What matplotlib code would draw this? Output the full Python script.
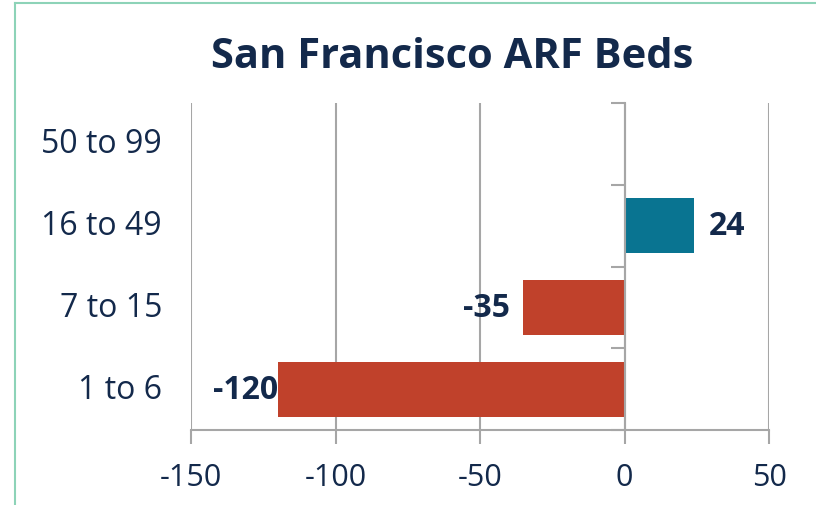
import matplotlib.pyplot as plt
from matplotlib.lines import Line2D
import numpy as np

categories = ['1 to 6', '7 to 15', '16 to 49', '50 to 99']
beds_change = [-120, -35, 24, 0]
x_ticks = [-150, -100, -50, 0, 50]

navy = '#13294B'
grid_gray = '#A6A6A6'
pos_color = '#097491'
neg_color = '#C0412B'

plt.rcParams['font.family'] = ['Open Sans', 'DejaVu Sans']

fig = plt.figure(figsize=(8.16, 5.06), dpi=100)
ax = fig.add_axes([191 / 816, 1 - 431 / 506, 578 / 816, 327 / 506])

y = np.arange(len(categories))
colors = [pos_color if v > 0 else neg_color for v in beds_change]
ax.barh(y, beds_change, height=0.67, color=colors, zorder=3)

ax.set_xlim(-150, 50)
ax.set_ylim(-0.5, len(categories) - 0.5)
ax.set_xticks(x_ticks)
ax.set_xticklabels([str(t) for t in x_ticks])
ax.tick_params(axis='x', direction='out', length=10, width=1.5, color=grid_gray,
               labelsize=22, labelcolor=navy, pad=13)
ax.grid(axis='x', color=grid_gray, linewidth=1.5, zorder=0)

# y axis crosses at zero, category boundary ticks only
ax.spines['left'].set_position(('data', 0))
ax.spines['left'].set_color(grid_gray)
ax.spines['left'].set_linewidth(1.5)
ax.spines['left'].set_zorder(4)
ax.set_yticks(np.arange(-0.5, len(categories)))
ax.set_yticklabels([])
ax.tick_params(axis='y', direction='out', length=10, width=1.5, color=grid_gray)
ax.spines['bottom'].set_color(grid_gray)
ax.spines['bottom'].set_linewidth(1.5)
ax.spines['top'].set_visible(False)
ax.spines['right'].set_visible(False)

for yi, cat in zip(y, categories):
    ax.text(-0.05, yi, cat, transform=ax.get_yaxis_transform(), ha='right', va='center',
            fontsize=23, color=navy)

for yi, v in zip(y, beds_change):
    if v == 0:
        continue
    if v > 0:
        ax.annotate(str(v), (v, yi), xytext=(11, 0), textcoords='offset points',
                    ha='left', va='center', fontsize=23, fontweight='bold', color=navy)
    elif v > -100:
        ax.annotate(str(v), (v, yi), xytext=(-10, 0), textcoords='offset points',
                    ha='right', va='center', fontsize=23, fontweight='bold', color=navy)
    else:
        ax.annotate(str(v), (v, yi), xytext=(0, 0), textcoords='offset points',
                    ha='right', va='center', fontsize=23, fontweight='bold', color=navy)

fig.text(452 / 816, 1 - 57 / 506, 'San Francisco ARF Beds', ha='center', va='center',
         fontsize=30, fontweight='bold', color=navy)

# chart frame (partly cut off)
fig.add_artist(Line2D([15 / 816, 15 / 816], [0, 1 - 4 / 506], color='#8DD3B8', linewidth=1.5))
fig.add_artist(Line2D([15 / 816, 1], [1 - 4 / 506, 1 - 4 / 506], color='#8DD3B8', linewidth=1.5))

fig.savefig('out.png', dpi=100)
